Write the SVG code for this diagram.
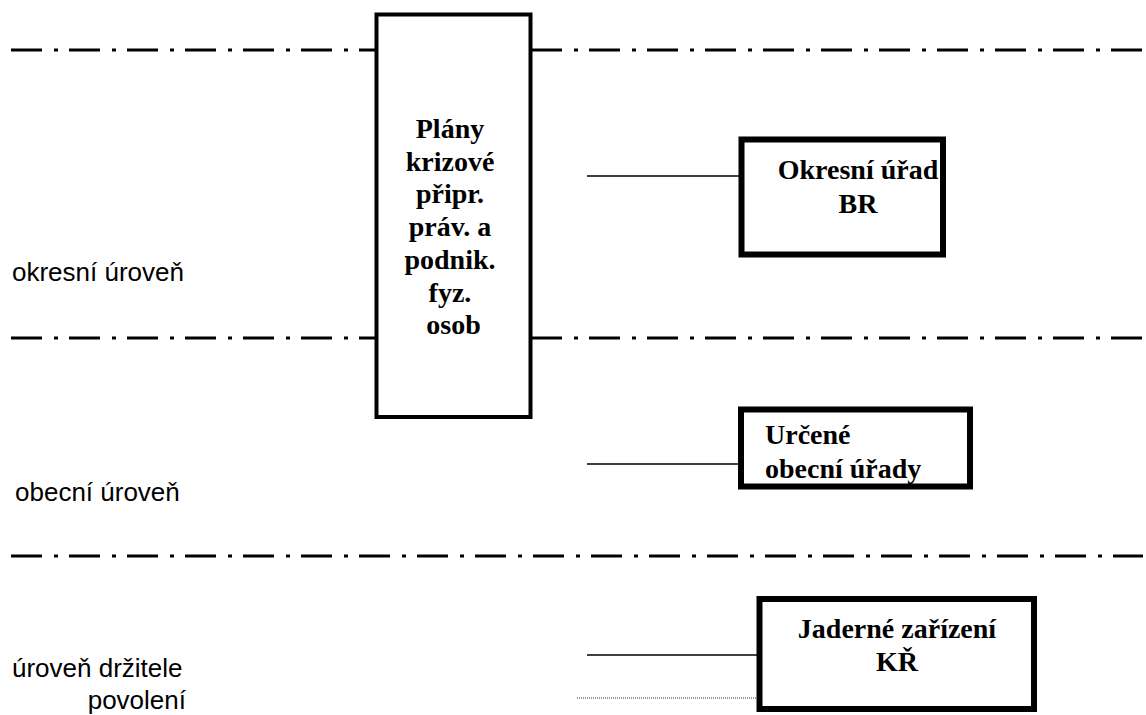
<svg xmlns="http://www.w3.org/2000/svg" width="1146" height="715" viewBox="0 0 1146 715">
<style>
.lvl{stroke:#000;stroke-width:3;stroke-dasharray:31 12 4 11;fill:none}
.box{fill:#fff;stroke:#000}
.con{stroke:#000;stroke-width:1.5;fill:none}
.bt{font-family:"Liberation Serif","Times New Roman",serif;font-weight:bold;font-size:28px;fill:#000}
.lt{font-family:"Liberation Sans",Arial,sans-serif;font-size:26px;fill:#000}
</style>
<rect width="1146" height="715" fill="#fff"/>
<g id="levels">
<line class="lvl" x1="11" y1="50" x2="376" y2="50"/>
<line class="lvl" x1="531" y1="50" x2="1143" y2="50"/>
<line class="lvl" x1="11" y1="338" x2="376" y2="338"/>
<line class="lvl" x1="531" y1="338" x2="1143" y2="338"/>
<line class="lvl" x1="11" y1="556" x2="1143" y2="556"/>
</g>
<g id="connectors">
<line class="con" x1="587" y1="176" x2="739" y2="176"/>
<line class="con" x1="587" y1="464" x2="739" y2="464"/>
<line class="con" x1="587" y1="655" x2="757" y2="655"/>
<line x1="577" y1="698" x2="757" y2="698" stroke="#333" stroke-width="1" stroke-dasharray="1 1"/>
</g>
<g id="plany">
<rect class="box" x="376.5" y="14.5" width="154" height="402.5" stroke-width="4"/>
<text class="bt" text-anchor="middle">
<tspan x="453.5" y="138">Plány</tspan>
<tspan x="453.5" y="170.7">krizové</tspan>
<tspan x="453.5" y="203.4">připr.</tspan>
<tspan x="453.5" y="236.1">práv. a</tspan>
<tspan x="453.5" y="268.8">podnik.</tspan>
<tspan x="453.5" y="301.5">fyz.</tspan>
<tspan x="453.5" y="334.2">osob</tspan>
</text>
</g>
<g id="okresni-urad">
<rect class="box" x="741.5" y="139.5" width="201.5" height="115" stroke-width="6"/>
<text class="bt" text-anchor="middle"><tspan x="858" y="179">Okresní úřad</tspan><tspan x="858" y="213">BR</tspan></text>
</g>
<g id="obecni-urady">
<rect class="box" x="741" y="409.5" width="229" height="77" stroke-width="6"/>
<text class="bt"><tspan x="765" y="444">Určené</tspan><tspan x="765" y="478">obecní úřady</tspan></text>
</g>
<g id="jaderne">
<rect class="box" x="759.5" y="599" width="274.5" height="110" stroke-width="6"/>
<text class="bt" text-anchor="middle"><tspan x="897" y="638">Jaderné zařízení</tspan><tspan x="897" y="671">KŘ</tspan></text>
</g>
<g id="labels">
<text class="lt" x="12" y="281">okresní úroveň</text>
<text class="lt" x="15" y="501">obecní úroveň</text>
<text class="lt" x="12" y="677">úroveň držitele</text>
<text class="lt" x="186" y="709" text-anchor="end">povolení</text>
</g>
</svg>
